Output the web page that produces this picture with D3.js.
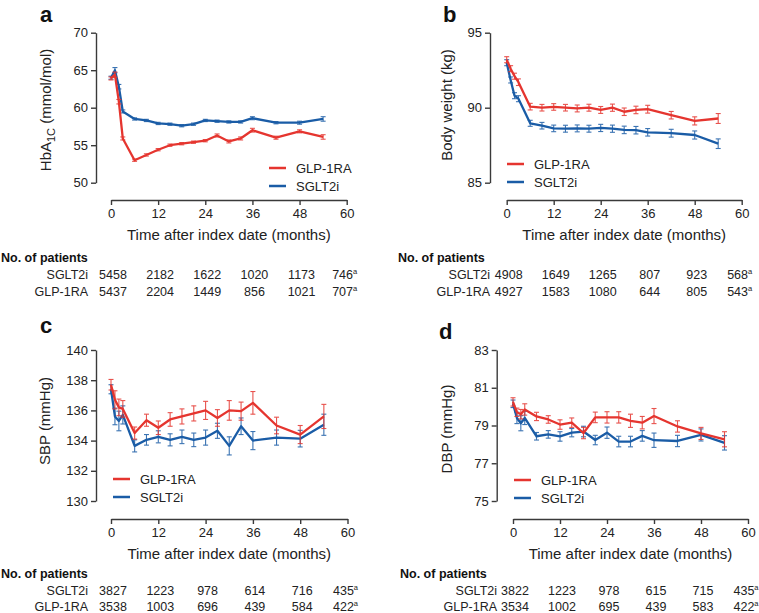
<!DOCTYPE html>
<html>
<head>
<meta charset="utf-8">
<script src="https://cdn.jsdelivr.net/npm/d3@7"></script>
<style>
  html, body { margin: 0; padding: 0; background: #fff; }
  svg { display: block; font-family: "Liberation Sans", Arial, Helvetica, sans-serif; }
</style>
</head>
<body>
<svg id="chart" width="759" height="613"></svg>
<script>
// ---------------- DATA ----------------
const months = [0, 1, 2, 3, 6, 9, 12, 15, 18, 21, 24, 27, 30, 33, 36, 42, 48, 54];
const xTicks = [0, 12, 24, 36, 48, 60];
const seriesNames = ["GLP-1RA", "SGLT2i"];

// a: HbA1c
const hba1cGLP  = [63.9, 64.4, 60.8, 55.9, 53.0, 53.7, 54.4, 55.0, 55.2, 55.4, 55.6, 56.3, 55.5, 55.9, 57.0, 56.0, 56.85, 56.1];
const hba1cGLPErr  = [0.2, 0.35, 0.3, 0.2, 0.15, 0.15, 0.15, 0.15, 0.15, 0.15, 0.15, 0.2, 0.2, 0.2, 0.25, 0.2, 0.2, 0.3];
const hba1cSGLT = [64.0, 65.0, 62.8, 59.5, 58.5, 58.3, 57.9, 57.8, 57.6, 57.8, 58.3, 58.2, 58.1, 58.1, 58.6, 58.0, 58.0, 58.5];
const hba1cSGLTErr = [0.2, 0.35, 0.3, 0.2, 0.15, 0.15, 0.15, 0.15, 0.15, 0.15, 0.15, 0.15, 0.15, 0.15, 0.2, 0.15, 0.2, 0.3];

// b: body weight
const weightGLP  = [93.2, 92.6, 92.1, 91.7, 90.07, 90.0, 90.05, 90.0, 89.95, 90.0, 89.85, 90.0, 89.73, 89.85, 89.9, 89.5, 89.12, 89.28];
const weightGLPErr  = [0.2, 0.2, 0.2, 0.22, 0.22, 0.22, 0.22, 0.22, 0.23, 0.23, 0.23, 0.24, 0.25, 0.25, 0.26, 0.25, 0.27, 0.33];
const weightSGLT = [93.0, 91.85, 90.8, 90.6, 88.96, 88.8, 88.62, 88.6, 88.62, 88.6, 88.65, 88.6, 88.52, 88.5, 88.36, 88.3, 88.18, 87.6];
const weightSGLTErr = [0.2, 0.2, 0.2, 0.2, 0.2, 0.22, 0.22, 0.23, 0.23, 0.23, 0.24, 0.24, 0.25, 0.25, 0.25, 0.26, 0.27, 0.32];

// c: SBP
const sbpGLP  = [137.7, 136.7, 136.2, 136.1, 134.5, 135.35, 134.85, 135.4, 135.6, 135.8, 136.0, 135.5, 136.0, 135.95, 136.5, 135.0, 134.4, 135.6];
const sbpGLPErr  = [0.35, 0.6, 0.55, 0.55, 0.4, 0.4, 0.45, 0.45, 0.5, 0.5, 0.6, 0.55, 0.65, 0.6, 0.75, 0.55, 0.6, 0.8];
const sbpSGLT = [137.4, 135.6, 135.3, 135.7, 133.65, 134.05, 134.25, 134.05, 134.25, 134.05, 134.2, 134.65, 133.65, 134.95, 134.0, 134.2, 134.13, 135.05];
const sbpSGLTErr = [0.3, 0.55, 0.65, 0.6, 0.4, 0.35, 0.4, 0.4, 0.45, 0.45, 0.5, 0.5, 0.6, 0.55, 0.6, 0.5, 0.55, 0.7];

// d: DBP
const dbpGLP  = [80.25, 79.7, 79.6, 79.85, 79.48, 79.32, 79.05, 79.15, 78.6, 79.43, 79.43, 79.43, 79.25, 79.15, 79.5, 78.95, 78.58, 78.27];
const dbpGLPErr  = [0.22, 0.22, 0.25, 0.3, 0.22, 0.2, 0.25, 0.25, 0.3, 0.28, 0.3, 0.3, 0.35, 0.33, 0.4, 0.3, 0.32, 0.4];
const dbpSGLT = [80.15, 79.4, 79.12, 79.4, 78.43, 78.53, 78.42, 78.62, 78.68, 78.23, 78.62, 78.15, 78.15, 78.45, 78.22, 78.18, 78.5, 78.08];
const dbpSGLTErr = [0.2, 0.3, 0.4, 0.35, 0.2, 0.2, 0.25, 0.22, 0.28, 0.25, 0.3, 0.28, 0.28, 0.28, 0.38, 0.3, 0.32, 0.38];

// patient tables
const nHbSGLT = [5458, 2182, 1622, 1020, 1173, 746];
const nHbGLP  = [5437, 2204, 1449, 856, 1021, 707];
const nWtSGLT = [4908, 1649, 1265, 807, 923, 568];
const nWtGLP  = [4927, 1583, 1080, 644, 805, 543];
const nSbpSGLT = [3827, 1223, 978, 614, 716, 435];
const nSbpGLP  = [3538, 1003, 696, 439, 584, 422];
const nDbpSGLT = [3822, 1223, 978, 615, 715, 435];
const nDbpGLP  = [3534, 1002, 695, 439, 583, 422];

// ---------------- STYLE / LAYOUT ----------------
const RED = "#e5352f";
const BLUE = "#1a5ca6";
const AXIS = "#3a3a3a";

const panels = [
  { id: "a", yDomain: [50, 70], yTicks: [50, 55, 60, 65, 70], yLabel: "hba1c",
    ax: 96, x0: 111, x1: 346.7, yTop: 32.7, yBot: 182.7, xAxisY: 200,
    labelX: 40, labelY: 22, titleX: 51, titleY: 110,
    legend: { x: 269, y: 168 }, glp: hba1cGLP, glpErr: hba1cGLPErr, sglt: hba1cSGLT, sgltErr: hba1cSGLTErr,
    tbl: { headX: 1, headY: 262, rowRight: 88, r1: 279, r2: 296 }, nS: nHbSGLT, nG: nHbGLP },
  { id: "b", yDomain: [85, 95], yTicks: [85, 90, 95], yLabel: "Body weight (kg)",
    ax: 490, x0: 506.7, x1: 741.7, yTop: 32.7, yBot: 182.7, xAxisY: 200,
    labelX: 443, labelY: 22, titleX: 452, titleY: 105,
    legend: { x: 507, y: 164 }, glp: weightGLP, glpErr: weightGLPErr, sglt: weightSGLT, sgltErr: weightSGLTErr,
    tbl: { headX: 398, headY: 262, rowRight: 490, r1: 279, r2: 296 }, nS: nWtSGLT, nG: nWtGLP },
  { id: "c", yDomain: [130, 140], yTicks: [130, 132, 134, 136, 138, 140], yLabel: "SBP (mmHg)",
    ax: 96, x0: 111, x1: 347.5, yTop: 350, yBot: 501, xAxisY: 519,
    labelX: 40, labelY: 333, titleX: 50, titleY: 421,
    legend: { x: 113, y: 479 }, glp: sbpGLP, glpErr: sbpGLPErr, sglt: sbpSGLT, sgltErr: sbpSGLTErr,
    tbl: { headX: 1, headY: 578, rowRight: 88, r1: 595, r2: 611 }, nS: nSbpSGLT, nG: nSbpGLP },
  { id: "d", yDomain: [75, 83], yTicks: [75, 77, 79, 81, 83], yLabel: "DBP (mmHg)",
    ax: 496.7, x0: 513, x1: 748, yTop: 350, yBot: 501, xAxisY: 519,
    labelX: 439, labelY: 339, titleX: 452, titleY: 429,
    legend: { x: 514, y: 480 }, glp: dbpGLP, glpErr: dbpGLPErr, sglt: dbpSGLT, sgltErr: dbpSGLTErr,
    tbl: { headX: 400, headY: 578, rowRight: 497, r1: 595, r2: 611 }, nS: nDbpSGLT, nG: nDbpGLP }
];

const svg = d3.select("#chart");

function drawPanel(p) {
  const g = svg.append("g");
  const x = d3.scaleLinear().domain([0, 60]).range([p.x0, p.x1]);
  const y = d3.scaleLinear().domain(p.yDomain).range([p.yBot, p.yTop]);

  // y axis
  const yAxis = d3.axisLeft(y).tickValues(p.yTicks).tickSize(5).tickPadding(3).tickSizeOuter(0);
  const yg = g.append("g").attr("transform", `translate(${p.ax},0)`).call(yAxis);
  // x axis
  const xAxis = d3.axisBottom(x).tickValues(xTicks).tickSize(5).tickPadding(4).tickSizeOuter(0);
  const xg = g.append("g").attr("transform", `translate(0,${p.xAxisY})`).call(xAxis);
  [yg, xg].forEach(a => {
    a.select(".domain").attr("stroke", AXIS).attr("stroke-width", 1.4);
    a.selectAll(".tick line").attr("stroke", AXIS).attr("stroke-width", 1.4);
    a.selectAll(".tick text").attr("fill", "#222").attr("font-size", 13)
      .attr("font-family", "Liberation Sans, Arial, sans-serif");
  });

  // x title
  g.append("text").attr("x", (p.x0 + p.x1) / 2).attr("y", p.xAxisY + 40)
    .attr("text-anchor", "middle").attr("font-size", 15).attr("fill", "#222")
    .text("Time after index date (months)");

  // y title
  const yt = g.append("text")
    .attr("transform", `translate(${p.titleX},${p.titleY}) rotate(-90)`)
    .attr("text-anchor", "middle").attr("font-size", 15).attr("fill", "#222");
  if (p.yLabel === "hba1c") {
    yt.append("tspan").text("HbA");
    yt.append("tspan").attr("dy", 4).attr("font-size", 11).text("1C");
    yt.append("tspan").attr("dy", -4).text(" (mmol/mol)");
  } else {
    yt.text(p.yLabel);
  }

  // panel letter
  g.append("text").attr("x", p.labelX).attr("y", p.labelY)
    .attr("font-size", 22).attr("font-weight", "bold").attr("fill", "#111").text(p.id);

  // series
  const series = [
    { name: seriesNames[1], vals: p.sglt, err: p.sgltErr, color: BLUE },
    { name: seriesNames[0], vals: p.glp, err: p.glpErr, color: RED }
  ];
  series.forEach(s => {
    const pts = months.map((m, i) => ({ m, v: s.vals[i], e: s.err[i] }));
    const eb = g.append("g").attr("stroke", s.color).attr("stroke-width", 1.1).attr("opacity", 0.85);
    eb.selectAll("line.v").data(pts).enter().append("line")
      .attr("x1", d => x(d.m)).attr("x2", d => x(d.m))
      .attr("y1", d => y(d.v - d.e)).attr("y2", d => y(d.v + d.e));
    eb.selectAll("line.t").data(pts).enter().append("line")
      .attr("x1", d => x(d.m) - 2.5).attr("x2", d => x(d.m) + 2.5)
      .attr("y1", d => y(d.v + d.e)).attr("y2", d => y(d.v + d.e));
    eb.selectAll("line.b").data(pts).enter().append("line")
      .attr("x1", d => x(d.m) - 2.5).attr("x2", d => x(d.m) + 2.5)
      .attr("y1", d => y(d.v - d.e)).attr("y2", d => y(d.v - d.e));
    g.append("path").datum(pts)
      .attr("fill", "none").attr("stroke", s.color).attr("stroke-width", 2.3)
      .attr("stroke-linejoin", "round")
      .attr("d", d3.line().x(d => x(d.m)).y(d => y(d.v)));
  });

  // legend
  const lg = g.append("g").attr("transform", `translate(${p.legend.x},${p.legend.y})`);
  [{ n: seriesNames[0], c: RED }, { n: seriesNames[1], c: BLUE }].forEach((it, i) => {
    lg.append("line").attr("x1", 0).attr("x2", 17).attr("y1", i * 18).attr("y2", i * 18)
      .attr("stroke", it.c).attr("stroke-width", 2.5);
    lg.append("text").attr("x", 27).attr("y", i * 18 + 4.5).attr("font-size", 13)
      .attr("fill", "#222").text(it.n);
  });

  // patients table
  const t = p.tbl;
  g.append("text").attr("x", t.headX).attr("y", t.headY).attr("font-size", 12.5)
    .attr("font-weight", "bold").attr("fill", "#111").text("No. of patients");
  const rows = [{ lab: seriesNames[1], vals: p.nS, yy: t.r1 }, { lab: seriesNames[0], vals: p.nG, yy: t.r2 }];
  rows.forEach(r => {
    g.append("text").attr("x", t.rowRight).attr("y", r.yy).attr("text-anchor", "end")
      .attr("font-size", 12.5).attr("fill", "#222").text(r.lab);
    r.vals.forEach((v, i) => {
      const last = i === r.vals.length - 1;
      const tx = g.append("text").attr("x", x(xTicks[i]) + (last ? -2 : 2)).attr("y", r.yy)
        .attr("text-anchor", "middle").attr("font-size", 12.5).attr("fill", "#222");
      tx.append("tspan").text(v);
      if (last) {
        tx.append("tspan").attr("dy", -5).attr("font-size", 7.5).text("a");
      }
    });
  });
}

panels.forEach(drawPanel);
</script>
</body>
</html>
